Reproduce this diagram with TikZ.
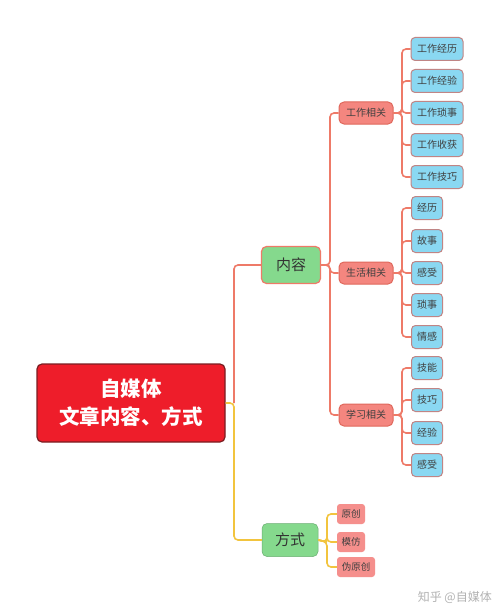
\documentclass[tikz,border=0pt]{standalone}
\usepackage{fontspec}
\setmainfont{Noto Sans CJK SC}
\begin{document}
\begin{tikzpicture}[x=1pt,y=-1pt,
  every node/.style={inner sep=0pt, align=center},
  rootbox/.style={draw=rootborder, line width=1.2pt, fill=rootred, rounded corners=5pt, minimum width=188pt, minimum height=78pt, text=white, font=\fontsize{20.5}{28}\selectfont\bfseries},
  greenbox/.style={draw=#1, line width=1.2pt, fill=leafgreen, rounded corners=5pt, text=black!80, font=\fontsize{15}{18}\selectfont},
  midbox/.style={draw=midborder, line width=1pt, fill=midfill, rounded corners=5pt, minimum width=54pt, minimum height=22pt, text=black!75, font=\fontsize{10}{12}\selectfont},
  bluebox/.style={draw=blueborder, line width=1pt, fill=bluefill, rounded corners=4pt, minimum width=#1, minimum height=23pt, text=black!75, font=\fontsize{10}{12}\selectfont},
  smallbox/.style={fill=smallfill, rounded corners=3pt, minimum width=#1, minimum height=20pt, text=black!75, font=\fontsize{9.5}{11}\selectfont},
  salmonline/.style={draw=lineSalmon, line width=1.6pt, rounded corners=4pt},
  yellowline/.style={draw=lineYellow, line width=1.6pt, rounded corners=4pt}
]
\definecolor{rootred}{HTML}{EE1D2A}
\definecolor{rootborder}{HTML}{7A1E22}
\definecolor{leafgreen}{HTML}{85D98D}
\definecolor{midfill}{HTML}{F4867F}
\definecolor{midborder}{HTML}{E0685C}
\definecolor{bluefill}{HTML}{8AD8F2}
\definecolor{blueborder}{HTML}{C08585}
\definecolor{smallfill}{HTML}{F58F8C}
\definecolor{lineSalmon}{HTML}{EE7A68}
\definecolor{lineYellow}{HTML}{F2C43E}
\useasboundingbox (0,0) rectangle (500,615);
\fill[white] (0,0) rectangle (500,615);

% root
\node[rootbox] (root) at (131,403) {自媒体\\文章内容、方式};
% level 1
\node[greenbox=lineSalmon, minimum width=59pt, minimum height=37pt] (nr) at (291,265) {内容};
\node[greenbox=leafgreen!80!black, line width=0.5pt, minimum width=56pt, minimum height=33pt] (fs) at (290,540) {方式};
% level 2
\node[midbox] (gz) at (366,113) {工作相关};
\node[midbox] (sh) at (366,273) {生活相关};
\node[midbox] (xx) at (366,415) {学习相关};
% work leaves
\node[bluebox=52pt] (g1) at (437,49) {工作经历};
\node[bluebox=52pt] (g2) at (437,81) {工作经验};
\node[bluebox=52pt] (g3) at (437,113) {工作琐事};
\node[bluebox=52pt] (g4) at (437,145) {工作收获};
\node[bluebox=52pt] (g5) at (437,177) {工作技巧};
% life leaves
\node[bluebox=31pt] (s1) at (427,208) {经历};
\node[bluebox=31pt] (s2) at (427,241) {故事};
\node[bluebox=31pt] (s3) at (427,273) {感受};
\node[bluebox=31pt] (s4) at (427,305) {琐事};
\node[bluebox=31pt] (s5) at (427,337) {情感};
% study leaves
\node[bluebox=31pt] (x1) at (427,368) {技能};
\node[bluebox=31pt] (x2) at (427,400) {技巧};
\node[bluebox=31pt] (x3) at (427,433) {经验};
\node[bluebox=31pt] (x4) at (427,465) {感受};
% method leaves
\node[smallbox=28pt] (f1) at (351,514) {原创};
\node[smallbox=28pt] (f2) at (351,542) {模仿};
\node[smallbox=38pt] (f3) at (356,567) {伪原创};

% trunk coordinates
\coordinate (t0) at (234,403);
\coordinate (t1) at (330,265);
\coordinate (tg) at (402,113);
\coordinate (ts) at (402,273);
\coordinate (tx) at (402,415);
\coordinate (tf) at (327,542);

% connectors
\draw[yellowline] (root.east) -- (t0) |- (fs.west);
\draw[salmonline] (t0) |- (nr.west);
\foreach \c in {gz,sh,xx} \draw[salmonline] (nr.east) -- (t1) |- (\c.west);
\foreach \c in {g1,g2,g3,g4,g5} \draw[salmonline] (gz.east) -- (tg) |- (\c.west);
\foreach \c in {s1,s2,s3,s4,s5} \draw[salmonline] (sh.east) -- (ts) |- (\c.west);
\foreach \c in {x1,x2,x3,x4} \draw[salmonline] (xx.east) -- (tx) |- (\c.west);
\draw[yellowline] (fs.east) -- (tf);
\foreach \c in {f1,f2,f3} \draw[yellowline] (fs.east) -- (tf) |- (\c.west);

% watermark
\node[text=black!30, font=\fontsize{12}{14}\selectfont, anchor=east] (wm) at (492,597) {知乎 @自媒体};
\end{tikzpicture}
\end{document}
